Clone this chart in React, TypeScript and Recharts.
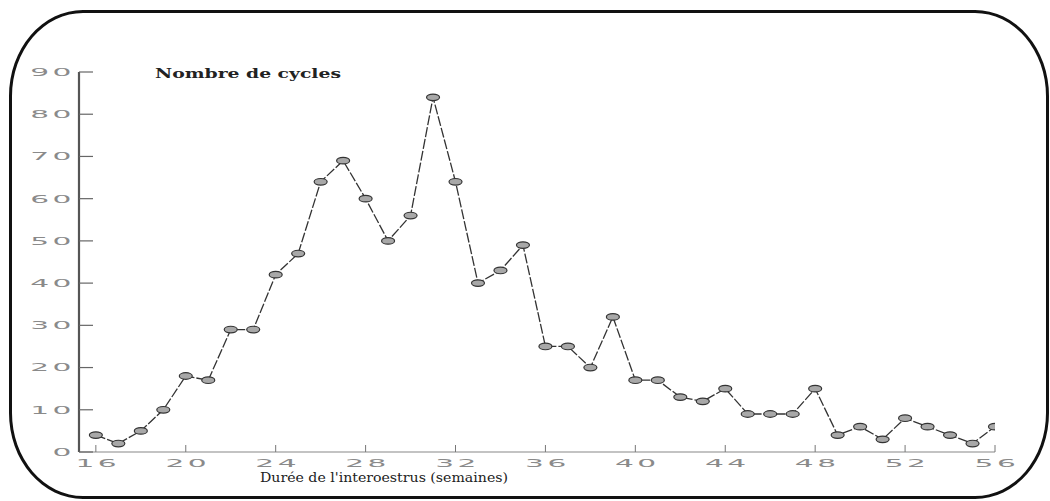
import React from 'react';
import { LineChart, Line, XAxis, YAxis } from 'recharts';

const weeks = [16, 17, 18, 19, 20, 21, 22, 23, 24, 25, 26, 27, 28, 29, 30, 31, 32, 33, 34, 35, 36, 37, 38, 39, 40, 41, 42, 43, 44, 45, 46, 47, 48, 49, 50, 51, 52, 53, 54, 55, 56];
const cycles = [4, 2, 5, 10, 18, 17, 29, 29, 42, 47, 64, 69, 60, 50, 56, 84, 64, 40, 43, 49, 25, 25, 20, 32, 17, 17, 13, 12, 15, 9, 9, 9, 15, 4, 6, 3, 8, 6, 4, 2, 6];
const xTicks = [16, 20, 24, 28, 32, 36, 40, 44, 48, 52, 56];
const yTicks = [0, 10, 20, 30, 40, 50, 60, 70, 80, 90];
const titleText = 'Nombre de cycles';
const xLabelText = "Durée de l'interoestrus (semaines)";

const data = weeks.map((w, i) => ({ week: w, n: cycles[i] }));

const tickFont = '"DejaVu Sans", sans-serif';
const SX = 2.7;

const YTick = (props: any) => {
  const { x, y, payload } = props;
  return (
    <g>
      <line x1={x} y1={y} x2={x + 14} y2={y} stroke="#666" strokeWidth={1.2} />
      <text
        transform={`translate(${x - 4},${y}) scale(${SX},1)`}
        textAnchor="end"
        dominantBaseline="central"
        fontSize={11}
        fontFamily={tickFont}
        fill="#8a8a8a"
        letterSpacing={1.3}
      >
        {payload.value}
      </text>
    </g>
  );
};

const XTick = (props: any) => {
  const { x, y, payload } = props;
  return (
    <g>
      <line x1={x} y1={y} x2={x} y2={y - 7} stroke="#777" strokeWidth={1} />
      <text
        transform={`translate(${x + 2},${y + 11}) scale(${SX},1)`}
        textAnchor="middle"
        dominantBaseline="central"
        fontSize={11}
        fontFamily={tickFont}
        fill="#8a8a8a"
        letterSpacing={1.3}
      >
        {payload.value}
      </text>
    </g>
  );
};

const Dot = (props: any) => {
  const { cx, cy, index } = props;
  return (
    <ellipse
      key={`dot-${index}`}
      cx={cx}
      cy={cy}
      rx={6.5}
      ry={3.3}
      fill="#a8a8a8"
      stroke="#333"
      strokeWidth={1.2}
    />
  );
};

export default function App() {
  return (
    <div style={{ position: 'fixed', left: 0, top: 0, width: 1050, height: 501, background: '#fff', overflow: 'hidden' }}>
      <div
        style={{
          position: 'absolute',
          left: 9,
          top: 10,
          width: 1040,
          height: 489,
          boxSizing: 'border-box',
          border: '3px solid #111',
          borderRadius: '74px / 86px',
        }}
      />
      <div style={{ position: 'absolute', left: 0, top: 0 }}>
        <LineChart width={1050} height={501} data={data} margin={{ top: 72, right: 55, bottom: 19, left: 19 }}>
          <XAxis
            dataKey="week"
            type="number"
            domain={[15.25, 56]}
            allowDataOverflow
            ticks={xTicks}
            interval={0}
            height={30}
            tickSize={0}
            tickMargin={0}
            tickLine={false}
            axisLine={{ stroke: '#888', strokeWidth: 1.2 }}
            tick={<XTick />}
          />
          <YAxis
            type="number"
            domain={[0, 90]}
            ticks={yTicks}
            interval={0}
            width={60}
            tickSize={0}
            tickMargin={0}
            tickLine={false}
            axisLine={{ stroke: '#555', strokeWidth: 2.2 }}
            tick={<YTick />}
          />
          <Line
            type="linear"
            dataKey="n"
            stroke="#333"
            strokeWidth={1.3}
            strokeDasharray="10 2"
            dot={Dot}
            activeDot={false}
            isAnimationActive={false}
          />
        </LineChart>
      </div>
      <svg width={1050} height={501} style={{ position: 'absolute', left: 0, top: 0, pointerEvents: 'none' }}>
        <text
          x={155}
          y={78}
          fontFamily='"DejaVu Serif", serif'
          fontWeight="bold"
          fontSize={12}
          fill="#222"
          textLength={186}
          lengthAdjust="spacingAndGlyphs"
        >
          {titleText}
        </text>
        <text
          x={260}
          y={482}
          fontFamily='"DejaVu Serif", serif'
          fontSize={12}
          fill="#222"
          textLength={248}
          lengthAdjust="spacingAndGlyphs"
        >
          {xLabelText}
        </text>
      </svg>
    </div>
  );
}
